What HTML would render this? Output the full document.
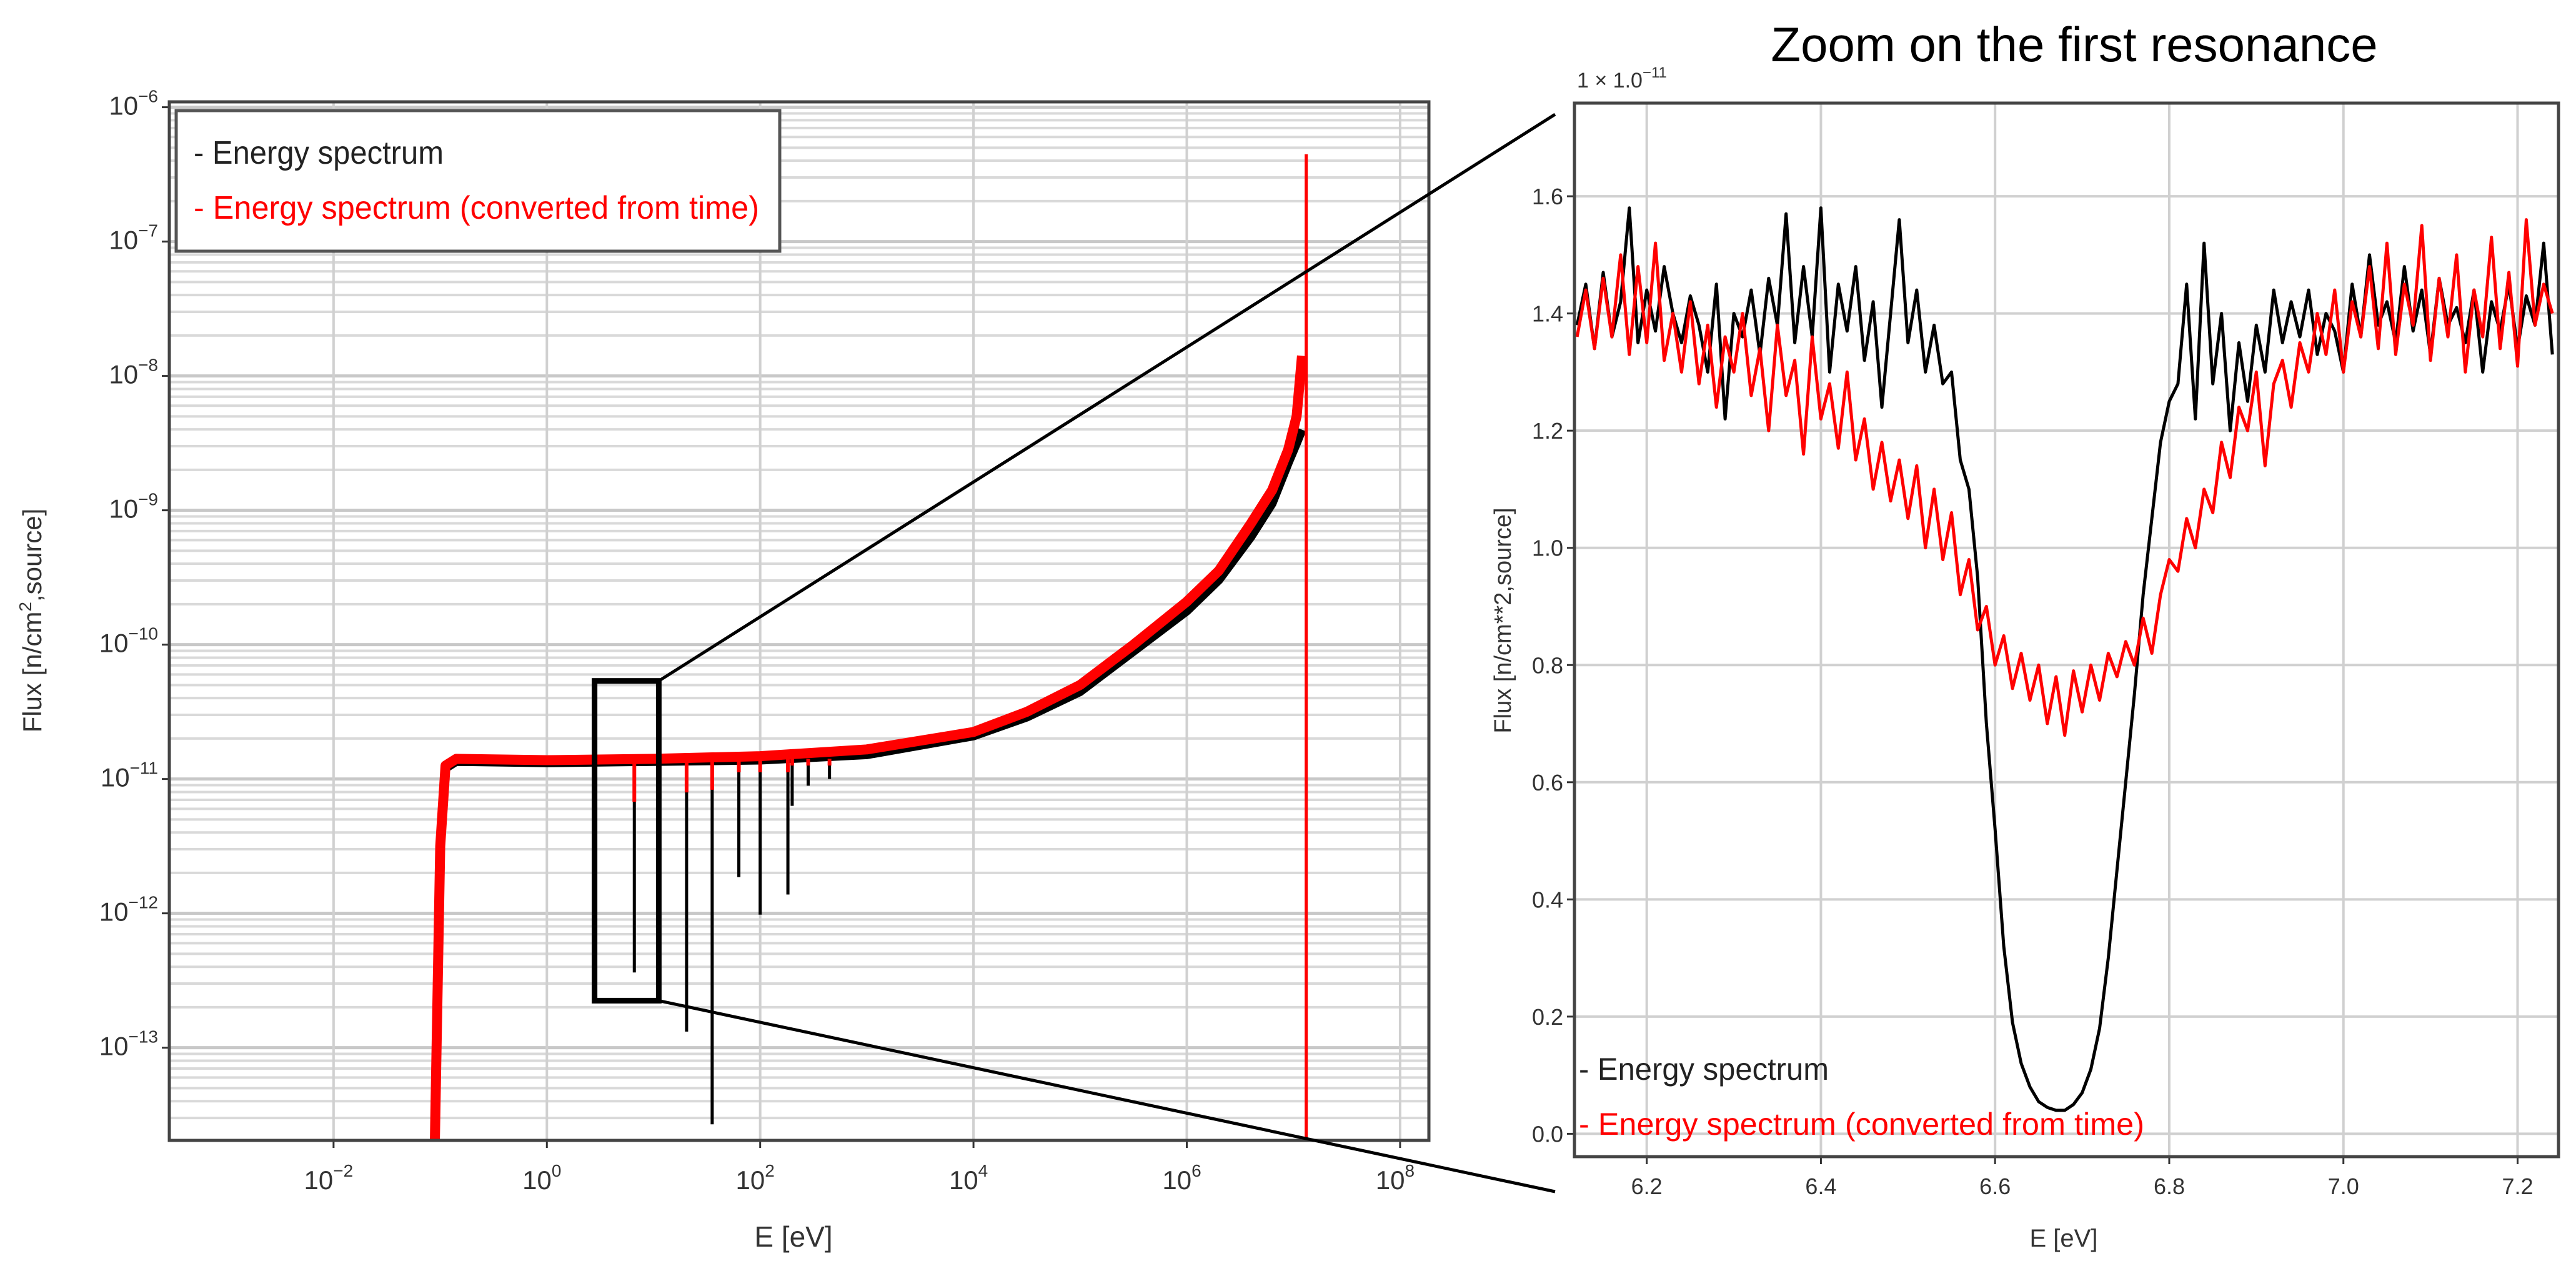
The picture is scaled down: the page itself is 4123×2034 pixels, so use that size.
<!DOCTYPE html>
<html><head><meta charset="utf-8"><style>
html,body{margin:0;padding:0;background:#fff;}
svg{display:block;font-family:"Liberation Sans",sans-serif;}
</style></head><body>
<svg id="chart" width="4123" height="2034" viewBox="0 0 4123 2034">
<g id="left"></g>
<g id="right"></g>
<g id="overlay"></g>
</svg>
<script>
// ---------- Left chart data ----------
const baseLogE = [-1.05,-1.0,-0.95,-0.85,0,1,2,3,4,4.5,5,5.5,6,6.3,6.6,6.8,6.95,7.03,7.08];
const baseLogFluxRed = [-13.7,-11.5,-10.9,-10.85,-10.86,-10.85,-10.83,-10.78,-10.65,-10.5,-10.3,-10.0,-9.68,-9.45,-9.1,-8.85,-8.55,-8.3,-7.85];
const baseLogFluxBlack = [-13.7,-11.5,-10.92,-10.87,-10.88,-10.87,-10.86,-10.82,-10.68,-10.54,-10.35,-10.05,-9.75,-9.52,-9.2,-8.95,-8.65,-8.5,-8.4];
const resLogE = [0.82,1.31,1.55,1.80,2.0,2.26,2.3,2.45,2.65];
const resLogMinBlack = [-12.44,-12.88,-13.57,-11.73,-12.01,-11.86,-11.2,-11.05,-11.0];
const resLogMinRed = [-11.17,-11.1,-11.08,-10.95,-10.95,-10.95,-10.9,-10.9,-10.9];
const redSpikeLogE = 7.12;
const redSpikeLogTop = -6.35;
const leftXTicks = [-2,0,2,4,6,8];
const leftYTicks = [-6,-7,-8,-9,-10,-11,-12,-13];
// ---------- Right chart data ----------
const zoomE0 = 6.12, zoomStep = 0.01;
const zoomBlack = [1.38,1.45,1.34,1.47,1.36,1.42,1.58,1.35,1.44,1.37,1.48,1.40,1.35,1.43,1.38,1.30,1.45,1.22,1.40,1.36,1.44,1.33,1.46,1.38,1.57,1.35,1.48,1.36,1.58,1.30,1.45,1.37,1.48,1.32,1.42,1.24,1.40,1.56,1.35,1.44,1.30,1.38,1.28,1.30,1.15,1.10,0.95,0.70,0.52,0.32,0.19,0.12,0.08,0.055,0.045,0.04,0.04,0.05,0.07,0.11,0.18,0.30,0.45,0.60,0.75,0.92,1.05,1.18,1.25,1.28,1.45,1.22,1.52,1.28,1.40,1.20,1.35,1.25,1.38,1.30,1.44,1.35,1.42,1.36,1.44,1.33,1.40,1.37,1.30,1.45,1.36,1.50,1.38,1.42,1.35,1.48,1.37,1.44,1.33,1.46,1.38,1.41,1.35,1.44,1.30,1.42,1.37,1.45,1.34,1.43,1.38,1.52,1.33];
const zoomRed = [1.36,1.44,1.34,1.46,1.36,1.50,1.33,1.48,1.35,1.52,1.32,1.40,1.30,1.42,1.28,1.38,1.24,1.36,1.30,1.40,1.26,1.34,1.20,1.38,1.26,1.32,1.16,1.36,1.22,1.28,1.17,1.30,1.15,1.22,1.10,1.18,1.08,1.15,1.05,1.14,1.00,1.10,0.98,1.06,0.92,0.98,0.86,0.90,0.80,0.85,0.76,0.82,0.74,0.80,0.70,0.78,0.68,0.79,0.72,0.80,0.74,0.82,0.78,0.84,0.80,0.88,0.82,0.92,0.98,0.96,1.05,1.00,1.10,1.06,1.18,1.12,1.24,1.20,1.30,1.14,1.28,1.32,1.24,1.35,1.30,1.40,1.33,1.44,1.30,1.42,1.36,1.48,1.34,1.52,1.33,1.45,1.38,1.55,1.32,1.46,1.36,1.50,1.30,1.44,1.36,1.53,1.34,1.47,1.31,1.56,1.38,1.45,1.40];
const rightXTicks = [6.2,6.4,6.6,6.8,7.0,7.2];
const rightYTicks = [0.0,0.2,0.4,0.6,0.8,1.0,1.2,1.4,1.6];

const NS = "http://www.w3.org/2000/svg";
function mk(parent, tag, attrs, text){
  const e = document.createElementNS(NS, tag);
  for (const k in attrs) e.setAttribute(k, attrs[k]);
  if (text !== undefined) e.textContent = text;
  parent.appendChild(e); return e;
}
// left axes
const L = {x0:271,x1:2287,y0:163,y1:1825,lx0:-3.54,lx1:8.27,ly0:-5.96,ly1:-13.69};
const lx = v => L.x0 + (v - L.lx0)/(L.lx1 - L.lx0)*(L.x1 - L.x0);
const ly = v => L.y0 + (v - L.ly0)/(L.ly1 - L.ly0)*(L.y1 - L.y0);
const lg = document.getElementById('left');
// horizontal grid (major + minor)
for (let d=-14; d<=-6; d++){
  for (let m=1; m<=9; m++){
    const v = d + Math.log10(m);
    if (v < L.ly1 || v > L.ly0) continue;
    const ln = mk(lg,'line',{x1:L.x0,x2:L.x1,y1:ly(v),y2:ly(v),stroke:m===1?'#c8c8c8':'#d9d9d9','stroke-width':m===1?5:4});
    
    
  }
}
leftXTicks.forEach(t=>{
  const ln = mk(lg,'line',{x1:lx(t),x2:lx(t),y1:L.y0,y2:L.y1,stroke:'#d0d0d0','stroke-width':4});
  
  
  const tk = mk(lg,'line',{x1:lx(t),x2:lx(t),y1:L.y1,y2:L.y1+12,stroke:'#333','stroke-width':3});
  
  
  const tx = mk(lg,'text',{x:lx(t)-8,y:L.y1+78,'font-size':42,fill:'#333','text-anchor':'middle'});
  
  
  tx.innerHTML = '10<tspan dy="-20" font-size="28">'+(t<0?'\u2212'+(-t):t)+'</tspan>';
});
leftYTicks.forEach(t=>{
  const tk = mk(lg,'line',{x1:L.x0-12,x2:L.x0,y1:ly(t),y2:ly(t),stroke:'#333','stroke-width':3});
  
  
  const tx = mk(lg,'text',{x:L.x0-18,y:ly(t)+12,'font-size':42,fill:'#333','text-anchor':'end'});
  
  
  tx.innerHTML = '10<tspan dy="-20" font-size="28">\u2212'+(-t)+'</tspan>';
});
// black series
function pathFrom(xs, ys){ return xs.map((v,i)=>(i?'L':'M')+lx(v).toFixed(1)+','+ly(ys[i]).toFixed(1)).join(''); }
const pb = mk(lg,'path',{d:pathFrom(baseLogE,baseLogFluxBlack),fill:'none',stroke:'#000','stroke-width':14,'stroke-linejoin':'round'});


resLogE.forEach((e,i)=>{
  const l = mk(lg,'line',{x1:lx(e),x2:lx(e),y1:ly(-10.87),y2:ly(resLogMinBlack[i]),stroke:'#000','stroke-width':5});
  
  
});
const pr = mk(lg,'path',{d:pathFrom(baseLogE,baseLogFluxRed),fill:'none',stroke:'#ff0000','stroke-width':16,'stroke-linejoin':'round'});


resLogE.forEach((e,i)=>{
  const l = mk(lg,'line',{x1:lx(e),x2:lx(e),y1:ly(-10.85),y2:ly(resLogMinRed[i]),stroke:'#ff0000','stroke-width':6});
  
  
});
const rs = mk(lg,'line',{x1:lx(redSpikeLogE),x2:lx(redSpikeLogE),y1:ly(redSpikeLogTop),y2:L.y1,stroke:'#ff0000','stroke-width':5});


const lf = mk(lg,'rect',{x:L.x0,y:L.y0,width:L.x1-L.x0,height:L.y1-L.y0,fill:'none',stroke:'#444','stroke-width':5});


// legend
const lb = mk(lg,'rect',{x:282,y:177,width:966,height:225,fill:'#fff',stroke:'#555','stroke-width':5});


const le1 = mk(lg,'text',{x:310,y:262,'font-size':52,fill:'#222',textLength:400,lengthAdjust:'spacingAndGlyphs'},'- Energy spectrum');


const le2 = mk(lg,'text',{x:310,y:350,'font-size':52,fill:'#ff0000',textLength:905,lengthAdjust:'spacingAndGlyphs'},'- Energy spectrum (converted from time)');


const xl = mk(lg,'text',{x:1270,y:1995,'font-size':46,fill:'#333','text-anchor':'middle'},'E [eV]');


const yl = mk(lg,'text',{x:0,y:0,'font-size':42,fill:'#333','text-anchor':'middle',transform:'translate(66,993) rotate(-90)'});


yl.innerHTML='Flux [n/cm<tspan dy="-16" font-size="28">2</tspan><tspan dy="16">,source]</tspan>';

// right axes
const R = {x0:2520,x1:4095,y0:165,y1:1851,vx0:6.117,vx1:7.247,vy0:1.759,vy1:-0.039};
const rx = v => R.x0 + (v - R.vx0)/(R.vx1 - R.vx0)*(R.x1 - R.x0);
const ry = v => R.y0 + (v - R.vy0)/(R.vy1 - R.vy0)*(R.y1 - R.y0);
const rg = document.getElementById('right');
rightYTicks.forEach(t=>{
  const ln = mk(rg,'line',{x1:R.x0,x2:R.x1,y1:ry(t),y2:ry(t),stroke:'#d0d0d0','stroke-width':4});
  
  
  const tk = mk(rg,'line',{x1:R.x0-12,x2:R.x0,y1:ry(t),y2:ry(t),stroke:'#333','stroke-width':3});
  
  
  const tx = mk(rg,'text',{x:R.x0-18,y:ry(t)+13,'font-size':36,fill:'#333','text-anchor':'end'},t.toFixed(1));
  
  
});
rightXTicks.forEach(t=>{
  const ln = mk(rg,'line',{x1:rx(t),x2:rx(t),y1:R.y0,y2:R.y1,stroke:'#d0d0d0','stroke-width':4});
  
  
  const tk = mk(rg,'line',{x1:rx(t),x2:rx(t),y1:R.y1,y2:R.y1+12,stroke:'#333','stroke-width':3});
  
  
  const tx = mk(rg,'text',{x:rx(t),y:R.y1+60,'font-size':36,fill:'#333','text-anchor':'middle'},t.toFixed(1));
  
  
});
function zpath(vals){ return vals.map((v,i)=>(i?'L':'M')+rx(zoomE0+i*zoomStep).toFixed(1)+','+ry(v).toFixed(1)).join(''); }
const zb = mk(rg,'path',{d:zpath(zoomBlack),fill:'none',stroke:'#000','stroke-width':5,'stroke-linejoin':'round'});


const zr = mk(rg,'path',{d:zpath(zoomRed),fill:'none',stroke:'#ff0000','stroke-width':5,'stroke-linejoin':'round'});


const rf = mk(rg,'rect',{x:R.x0,y:R.y0,width:R.x1-R.x0,height:R.y1-R.y0,fill:'none',stroke:'#444','stroke-width':5});


const tt = mk(rg,'text',{x:3320,y:98,'font-size':78,fill:'#000','text-anchor':'middle'},'Zoom on the first resonance');


const off = mk(rg,'text',{x:2524,y:140,'font-size':34,fill:'#333'});


off.innerHTML='1 \u00d7 1.0<tspan dy="-16" font-size="24">\u221211</tspan>';
const rl1 = mk(rg,'text',{x:2527,y:1728,'font-size':50,fill:'#222',textLength:400,lengthAdjust:'spacingAndGlyphs'},'- Energy spectrum');


const rl2 = mk(rg,'text',{x:2527,y:1816,'font-size':50,fill:'#ff0000',textLength:905,lengthAdjust:'spacingAndGlyphs'},'- Energy spectrum (converted from time)');


const rxl = mk(rg,'text',{x:3303,y:1995,'font-size':40,fill:'#333','text-anchor':'middle'},'E [eV]');


const ryl = mk(rg,'text',{x:0,y:0,'font-size':38,fill:'#333','text-anchor':'middle',transform:'translate(2418,993) rotate(-90)'},'Flux [n/cm**2,source]');



// overlay: zoom box and connectors
const og = document.getElementById('overlay');
const zx0 = lx(Math.log10(2.8)), zx1 = lx(Math.log10(11.2)), zy0 = ly(-10.27), zy1 = ly(-12.65);
const zr2 = mk(og,'rect',{x:zx0,y:zy0,width:zx1-zx0,height:zy1-zy0,fill:'none',stroke:'#000','stroke-width':9});


const c1 = mk(og,'line',{x1:zx1,y1:zy0,x2:2489,y2:183,stroke:'#000','stroke-width':5});


const c2 = mk(og,'line',{x1:zx1,y1:zy1,x2:2489,y2:1907,stroke:'#000','stroke-width':5});


</script>
</body></html>
